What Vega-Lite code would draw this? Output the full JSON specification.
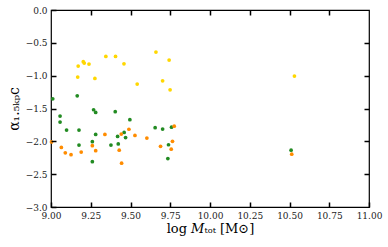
{
  "$schema": "https://vega.github.io/schema/vega-lite/v6.json",
  "width": 318,
  "height": 197,
  "autosize": "none",
  "padding": {"left": 51, "top": 10, "right": 19, "bottom": 40},
  "config": {
    "view": {"stroke": "black", "strokeWidth": 1.2},
    "font": "DejaVu Serif"
  },
  "data": {
    "values": [
      {"x": 9.168, "y": -1.021, "g": "a"},
      {"x": 9.171, "y": -0.854, "g": "a"},
      {"x": 9.203, "y": -0.788, "g": "a"},
      {"x": 9.209, "y": -0.808, "g": "a"},
      {"x": 9.239, "y": -0.823, "g": "a"},
      {"x": 9.276, "y": -1.043, "g": "a"},
      {"x": 9.345, "y": -0.708, "g": "a"},
      {"x": 9.406, "y": -0.708, "g": "a"},
      {"x": 9.459, "y": -0.819, "g": "a"},
      {"x": 9.542, "y": -1.128, "g": "a"},
      {"x": 9.66, "y": -0.641, "g": "a"},
      {"x": 9.702, "y": -1.078, "g": "a"},
      {"x": 9.743, "y": -0.763, "g": "a"},
      {"x": 9.749, "y": -1.215, "g": "a"},
      {"x": 10.531, "y": -1.006, "g": "a"},
      {"x": 9.011, "y": -1.352, "g": "b"},
      {"x": 9.057, "y": -1.615, "g": "b"},
      {"x": 9.057, "y": -1.706, "g": "b"},
      {"x": 9.165, "y": -1.306, "g": "b"},
      {"x": 9.268, "y": -1.519, "g": "b"},
      {"x": 9.281, "y": -1.56, "g": "b"},
      {"x": 9.404, "y": -1.549, "g": "b"},
      {"x": 9.496, "y": -1.671, "g": "b"},
      {"x": 9.098, "y": -1.828, "g": "b"},
      {"x": 9.176, "y": -1.828, "g": "b"},
      {"x": 9.176, "y": -2.056, "g": "b"},
      {"x": 9.281, "y": -1.895, "g": "b"},
      {"x": 9.26, "y": -2.006, "g": "b"},
      {"x": 9.26, "y": -2.31, "g": "b"},
      {"x": 9.377, "y": -2.056, "g": "b"},
      {"x": 9.419, "y": -1.925, "g": "b"},
      {"x": 9.423, "y": -2.04, "g": "b"},
      {"x": 9.46, "y": -1.865, "g": "b"},
      {"x": 9.469, "y": -1.943, "g": "b"},
      {"x": 9.655, "y": -1.793, "g": "b"},
      {"x": 9.702, "y": -1.813, "g": "b"},
      {"x": 9.735, "y": -2.263, "g": "b"},
      {"x": 9.739, "y": -2.052, "g": "b"},
      {"x": 9.758, "y": -1.785, "g": "b"},
      {"x": 10.51, "y": -2.135, "g": "b"},
      {"x": 9.003, "y": -2.01, "g": "c"},
      {"x": 9.065, "y": -2.093, "g": "c"},
      {"x": 9.09, "y": -2.174, "g": "c"},
      {"x": 9.126, "y": -2.204, "g": "c"},
      {"x": 9.19, "y": -2.163, "g": "c"},
      {"x": 9.26, "y": -2.067, "g": "c"},
      {"x": 9.281, "y": -2.143, "g": "c"},
      {"x": 9.339, "y": -1.895, "g": "c"},
      {"x": 9.429, "y": -2.135, "g": "c"},
      {"x": 9.442, "y": -1.889, "g": "c"},
      {"x": 9.444, "y": -2.333, "g": "c"},
      {"x": 9.49, "y": -1.816, "g": "c"},
      {"x": 9.528, "y": -1.91, "g": "c"},
      {"x": 9.603, "y": -1.95, "g": "c"},
      {"x": 9.689, "y": -2.075, "g": "c"},
      {"x": 9.756, "y": -2.12, "g": "c"},
      {"x": 9.764, "y": -1.999, "g": "c"},
      {"x": 9.775, "y": -1.77, "g": "c"},
      {"x": 10.514, "y": -2.195, "g": "c"}
    ]
  },
  "layer": [
    {
      "mark": {"type": "point", "filled": true, "shape": "circle", "size": 14, "opacity": 1},
      "encoding": {
        "x": {
          "field": "x", "type": "quantitative",
          "scale": {"domain": [9, 11], "nice": false, "zero": false},
          "axis": {
            "orient": "bottom",
            "values": [9, 9.25, 9.5, 9.75, 10, 10.25, 10.5, 10.75, 11],
            "format": ".2f",
            "grid": false, "domain": false, "ticks": true,
            "offset": -5, "tickSize": 5, "tickColor": "#000000", "tickWidth": 1.5, "zindex": 2,
            "labelFlush": false, "labelOverlap": false,
            "labelPadding": 4,
            "labelFont": "DejaVu Serif", "labelFontSize": 9, "labelColor": "#222",
            "title": "log 𝑀ₜₒₜ [M⊙]",
            "titleFont": "DejaVu Serif", "titleFontWeight": "normal", "titleColor": "black",
            "titleFontSize": 13,
            "titlePadding": 2
          }
        },
        "y": {
          "field": "y", "type": "quantitative",
          "scale": {"domain": [-3, 0], "nice": false, "zero": false},
          "axis": {
            "orient": "left",
            "values": [-3, -2.5, -2, -1.5, -1, -0.5, 0],
            "format": ".1f",
            "grid": false, "domain": false, "ticks": true,
            "offset": -5, "tickSize": 5, "tickColor": "#000000", "tickWidth": 1.5, "zindex": 2,
            "labelFlush": false, "labelOverlap": false,
            "labelPadding": 4,
            "labelFont": "DejaVu Serif", "labelFontSize": 9, "labelColor": "#222",
            "title": "α₁.₅ₖₚc",
            "titleFont": "DejaVu Serif", "titleFontWeight": "normal", "titleColor": "black",
            "titleFontSize": 14,
            "titlePadding": 4
          }
        },
        "color": {
          "field": "g", "type": "nominal", "legend": null,
          "scale": {"domain": ["a", "b", "c"], "range": ["#ffd700", "#228b22", "#ff8c00"]}
        }
      }
    },
    {
      "mark": {"type": "point", "filled": true, "size": 14, "opacity": 0},
      "encoding": {
        "x": {
          "field": "x", "type": "quantitative",
          "scale": {"domain": [9, 11], "nice": false, "zero": false},
          "axis": {"orient": "top", "values": [9.25, 9.5, 9.75, 10, 10.25, 10.5, 10.75], "labels": false, "title": null,
                   "grid": false, "domain": false, "ticks": true, "offset": -5, "tickSize": 5, "tickColor": "#000000", "tickWidth": 1.5, "zindex": 2}
        },
        "y": {
          "field": "y", "type": "quantitative",
          "scale": {"domain": [-3, 0], "nice": false, "zero": false},
          "axis": {"orient": "right", "values": [-2.5, -2, -1.5, -1, -0.5], "labels": false, "title": null,
                   "grid": false, "domain": false, "ticks": true, "offset": -5, "tickSize": 5, "tickColor": "#000000", "tickWidth": 1.5, "zindex": 2}
        }
      }
    }
  ],
  "resolve": {"axis": {"x": "independent", "y": "independent"}}
}
